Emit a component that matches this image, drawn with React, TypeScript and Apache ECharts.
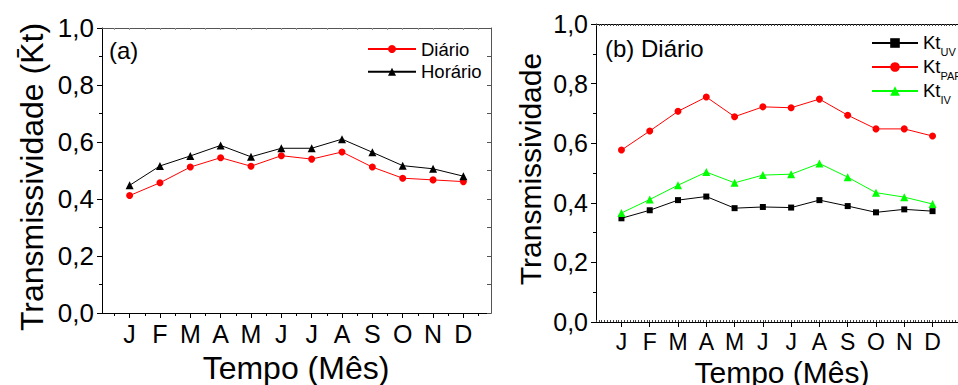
import React, { useEffect, useRef } from 'react';
import * as echarts from 'echarts';

const months = ['J', 'F', 'M', 'A', 'M', 'J', 'J', 'A', 'S', 'O', 'N', 'D'];
const diario = [0.412, 0.457, 0.512, 0.545, 0.515, 0.552, 0.540, 0.565, 0.512, 0.473, 0.467, 0.461];
const horario = [0.448, 0.516, 0.551, 0.588, 0.548, 0.578, 0.578, 0.610, 0.564, 0.517, 0.506, 0.480];
const ktUV = [0.348, 0.375, 0.409, 0.421, 0.382, 0.386, 0.384, 0.409, 0.389, 0.368, 0.378, 0.372];
const ktPAR = [0.577, 0.641, 0.707, 0.755, 0.689, 0.722, 0.719, 0.748, 0.694, 0.648, 0.648, 0.624];
const ktIV = [0.366, 0.411, 0.459, 0.503, 0.467, 0.493, 0.496, 0.532, 0.486, 0.434, 0.419, 0.396];

const FONT = '"Liberation Sans", Arial, Helvetica, sans-serif';

const monthIdx = months.map((_, i) => i);
const halfIdx = [-0.5, ...months.map((_, i) => i + 0.5)];
const comma = (v: number) => v.toFixed(1).replace('.', ',');
const pts = (arr: number[]) => arr.map((v, i) => [i, v]);

export default function App() {
  const ref = useRef<HTMLDivElement>(null);
  useEffect(() => {
    if (!ref.current) return;
    const chart = echarts.init(ref.current, null, { renderer: 'svg' });
    const black = '#000';
    const gray = '#555';
    const option: any = {
      animation: false,
      backgroundColor: '#fff',
      textStyle: { fontFamily: FONT },
      grid: [
        { left: 102, top: 28, width: 389, height: 285 },
        { left: 596, top: 24, width: 374, height: 298 },
      ],
      xAxis: [
        {
          gridIndex: 0, type: 'value', min: -0.91, max: 11.91, position: 'bottom',
          axisLine: { show: true, onZero: false, lineStyle: { color: black, width: 1 } },
          axisTick: { show: true, customValues: monthIdx, length: 5, lineStyle: { color: black } },
          axisLabel: { customValues: monthIdx, formatter: (v: number) => months[Math.round(v)], fontSize: 25, color: black, margin: 8, fontFamily: FONT },
          splitLine: { show: false },
        },
        {
          gridIndex: 0, type: 'value', min: -0.91, max: 11.91, position: 'bottom',
          axisLine: { show: false, onZero: false },
          axisTick: { show: true, customValues: halfIdx, length: 3, lineStyle: { color: black } },
          axisLabel: { show: false },
          splitLine: { show: false },
        },
        {
          gridIndex: 0, type: 'value', min: -0.91, max: 11.91, position: 'top',
          axisLine: { show: true, onZero: false, lineStyle: { color: gray, width: 1 } },
          axisTick: { show: true, inside: true, customValues: [...monthIdx, ...halfIdx], length: 2, lineStyle: { color: '#999' } },
          axisLabel: { show: false },
          splitLine: { show: false },
        },
        {
          gridIndex: 1, type: 'value', min: -0.9, max: 11.9, position: 'bottom',
          axisLine: { show: true, onZero: false, lineStyle: { color: black, width: 1 } },
          axisTick: { show: true, customValues: monthIdx, length: 5, lineStyle: { color: black } },
          axisLabel: { customValues: monthIdx, formatter: (v: number) => months[Math.round(v)], fontSize: 23, color: black, margin: 8, fontFamily: FONT },
          splitLine: { show: false },
        },
        {
          gridIndex: 1, type: 'value', min: -0.9, max: 11.9, interval: 0.1, position: 'bottom',
          axisLine: { show: false, onZero: false },
          axisTick: { show: true, inside: true, length: 2, lineStyle: { color: '#444' } },
          axisLabel: { show: false },
          splitLine: { show: false },
        },
        {
          gridIndex: 1, type: 'value', min: -0.9, max: 11.9, interval: 0.1, position: 'top',
          axisLine: { show: true, onZero: false, lineStyle: { color: black, width: 1 } },
          axisTick: { show: true, inside: true, length: 2, lineStyle: { color: '#444' } },
          axisLabel: { show: false },
          splitLine: { show: false },
        },
      ],
      yAxis: [
        {
          gridIndex: 0, type: 'value', min: 0, max: 1, interval: 0.2, position: 'left',
          axisLine: { show: true, onZero: false, lineStyle: { color: black, width: 1 } },
          axisTick: { show: true, length: 5, lineStyle: { color: black } },
          minorTick: { show: true, splitNumber: 2, length: 3, lineStyle: { color: black } },
          axisLabel: { formatter: comma, fontSize: 26, color: black, margin: 8, fontFamily: FONT },
          splitLine: { show: false },
        },
        {
          gridIndex: 0, type: 'value', min: 0, max: 1, interval: 0.1, position: 'right',
          axisLine: { show: true, onZero: false, lineStyle: { color: gray, width: 1 } },
          axisTick: { show: true, inside: true, length: 4, lineStyle: { color: gray } },
          axisLabel: { show: false },
          splitLine: { show: false },
        },
        {
          gridIndex: 1, type: 'value', min: 0, max: 1, interval: 0.2, position: 'left',
          axisLine: { show: true, onZero: false, lineStyle: { color: black, width: 1 } },
          axisTick: { show: true, length: 5, lineStyle: { color: black } },
          minorTick: { show: true, splitNumber: 2, length: 3, lineStyle: { color: black } },
          axisLabel: { formatter: comma, fontSize: 25, color: black, margin: 8, fontFamily: FONT },
          splitLine: { show: false },
        },
      ],
      legend: [
        {
          data: ['Diário', 'Horário'], orient: 'vertical', left: 367, top: 39, padding: 0,
          itemWidth: 48, itemHeight: 10, itemGap: 2.7, selectedMode: false,
          textStyle: { fontSize: 18.5, lineHeight: 20, color: black, fontFamily: FONT },
        },
        {
          data: ['Kt_UV', 'Kt_PAR', 'Kt_IV'], orient: 'vertical', left: 871, top: 33, padding: 0,
          itemWidth: 46, itemHeight: 12, itemGap: 0, selectedMode: false,
          formatter: (name: string) => `{m|Kt}{s|${name.split('_')[1]}}`,
          textStyle: {
            color: black, fontFamily: FONT,
            rich: {
              m: { fontSize: 18.5, lineHeight: 20, verticalAlign: 'top', color: black, fontFamily: FONT },
              s: { fontSize: 11, lineHeight: 11, verticalAlign: 'top', padding: [13, 0, 0, 0], color: black, fontFamily: FONT },
            },
          },
        },
      ],
      series: [
        {
          name: 'Diário', type: 'line', xAxisIndex: 0, yAxisIndex: 0, data: pts(diario),
          symbol: 'circle', symbolSize: 7,
          lineStyle: { color: '#ff0000', width: 1 }, itemStyle: { color: '#ff0000' },
        },
        {
          name: 'Horário', type: 'line', xAxisIndex: 0, yAxisIndex: 0, data: pts(horario),
          symbol: 'triangle', symbolSize: 8,
          lineStyle: { color: black, width: 1 }, itemStyle: { color: black },
        },
        {
          name: 'Kt_UV', type: 'line', xAxisIndex: 3, yAxisIndex: 2, data: pts(ktUV),
          symbol: 'rect', symbolSize: 6,
          lineStyle: { color: black, width: 1 }, itemStyle: { color: black },
        },
        {
          name: 'Kt_PAR', type: 'line', xAxisIndex: 3, yAxisIndex: 2, data: pts(ktPAR),
          symbol: 'circle', symbolSize: 7,
          lineStyle: { color: '#ff0000', width: 1 }, itemStyle: { color: '#ff0000' },
        },
        {
          name: 'Kt_IV', type: 'line', xAxisIndex: 3, yAxisIndex: 2, data: pts(ktIV),
          symbol: 'triangle', symbolSize: 8,
          lineStyle: { color: '#00ff00', width: 1 }, itemStyle: { color: '#00ff00' },
        },
      ],
      graphic: [
        { type: 'text', left: 109, top: 38, style: { text: '(a)', font: `24px ${FONT}`, fill: black } },
        { type: 'text', left: 605, top: 36, style: { text: '(b) Diário', font: `24px ${FONT}`, fill: black } },
        {
          type: 'text', x: 32, y: 177, rotation: Math.PI / 2,
          style: { text: 'Transmissividade (K\u0304t)', font: `32px ${FONT}`, fill: black, align: 'center', verticalAlign: 'middle' },
        },
        {
          type: 'text', x: 296, y: 368,
          style: { text: 'Tempo (Mês)', font: `32px ${FONT}`, fill: black, align: 'center', verticalAlign: 'middle' },
        },
        {
          type: 'text', x: 530, y: 169, rotation: Math.PI / 2,
          style: { text: 'Transmissividade', font: `30px ${FONT}`, fill: black, align: 'center', verticalAlign: 'middle' },
        },
        {
          type: 'text', x: 782, y: 372,
          style: { text: 'Tempo (Mês)', font: `30px ${FONT}`, fill: black, align: 'center', verticalAlign: 'middle' },
        },
      ],
    };
    chart.setOption(option);
    return () => chart.dispose();
  }, []);
  return <div ref={ref} style={{ position: 'fixed', left: 0, top: 0, width: 958, height: 385 }} />;
}
